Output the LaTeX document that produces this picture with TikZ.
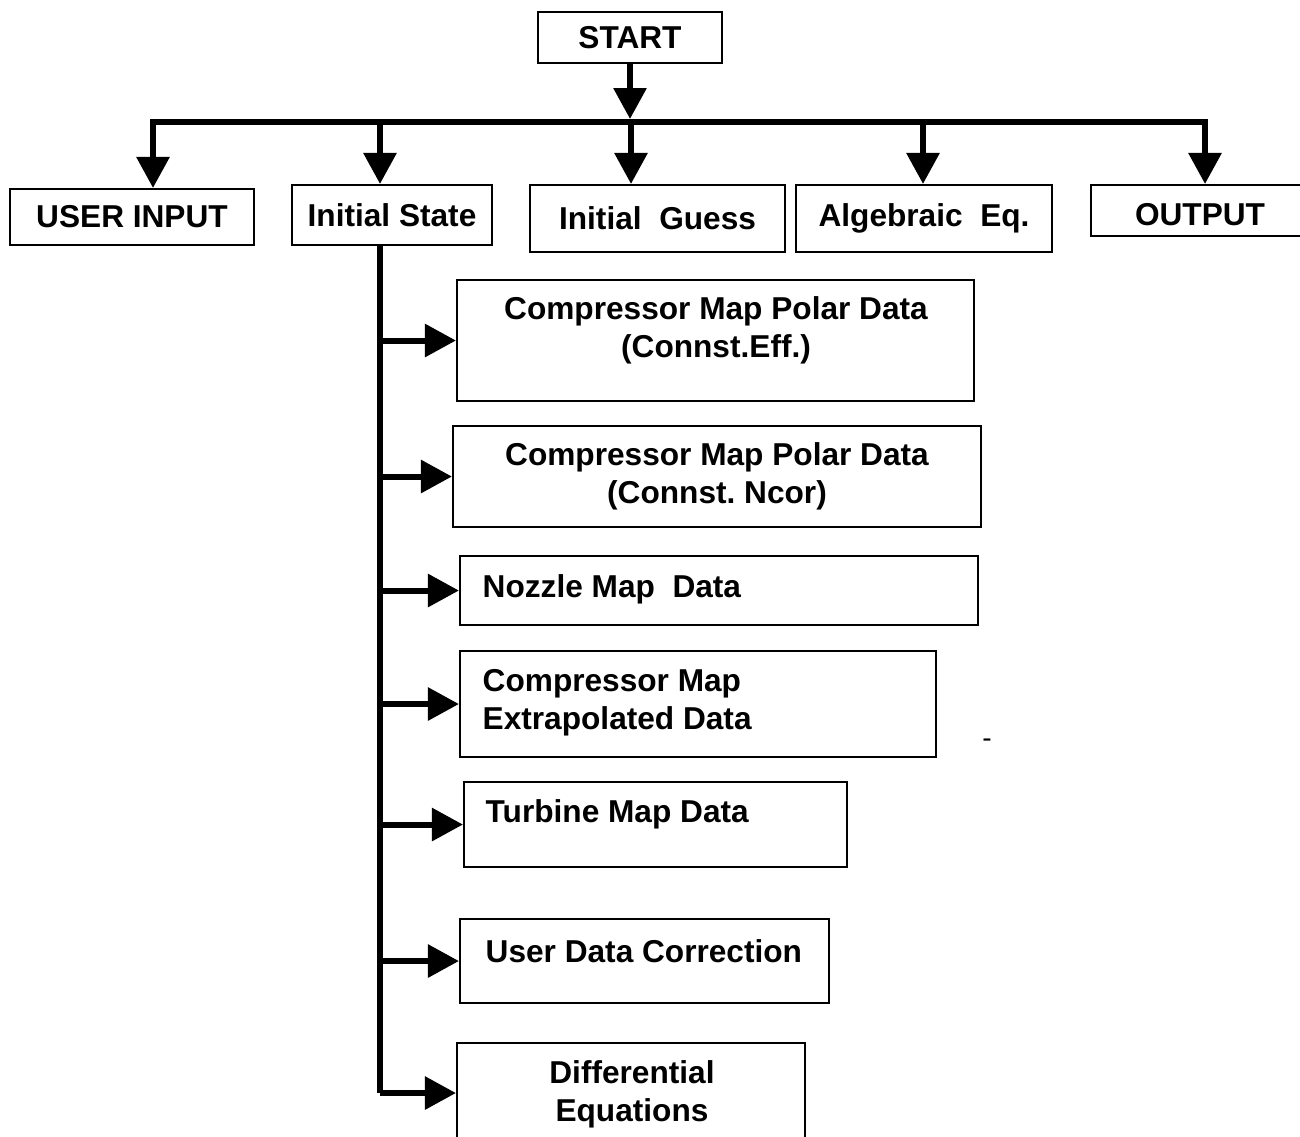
\documentclass[tikz,border=0pt]{standalone}
\usepackage{fontspec}
\setmainfont{Liberation Sans}
\usetikzlibrary{arrows.meta}

\begin{document}
\begin{tikzpicture}[
    bus/.style={line width=1.7pt},
    arr/.style={line width=1.7pt,-{Triangle[length=0.31cm,width=0.32cm]}},
    twoarr/.style={line width=1.7pt,{Triangle[length=0.31cm,width=0.32cm]}-{Triangle[length=0.31cm,width=0.32cm]}},
    box/.style={draw,line width=0.6pt,inner sep=0pt,font=\fontsize{9}{10.8}\selectfont\bfseries},
    txt/.style={inner sep=0pt,align=center,font=\fontsize{9}{10.8}\selectfont\bfseries}
  ]
  \useasboundingbox (0,0) rectangle (13,-11.36);

  % top row
  \node (start) at (6.30,-0.375) [box,minimum width=1.84cm,minimum height=0.51cm]{START};
  \node (ui) at (1.32,-2.17) [box,minimum width=2.44cm,minimum height=0.56cm]{USER INPUT};
  \node (is) at (3.92,-2.15) [box,minimum width=2.00cm,minimum height=0.60cm]{Initial State};
  \node (ig) at (6.575,-2.185) [box,minimum width=2.55cm,minimum height=0.67cm]{Initial\ \ Guess};
  \node (ae) at (9.24,-2.185) [box,minimum width=2.56cm,minimum height=0.67cm]{Algebraic\ \ Eq.};
  \node (out) at (12.00,-2.105) [box,minimum width=2.18cm,minimum height=0.51cm,text depth=0pt,text height=0.88em]{OUTPUT};

  % drop points on the bus
  \coordinate (d1) at (1.53,-1.22);
  \coordinate (d2) at (3.80,-1.22);
  \coordinate (d3) at (6.31,-1.22);
  \coordinate (d4) at (9.23,-1.22);
  \coordinate (d5) at (12.05,-1.22);

  \draw[arr] (start.south) -- ([yshift=0.03cm]start.south |- d1);
  \draw[twoarr] (ui.north -| d1) -- (d1) -- (d5) -- (out.north -| d5);
  \draw[arr] (d2) -- (is.north -| d2);
  \draw[arr] (d3) -- (ig.north -| d3);
  \draw[arr] (d4) -- (ae.north -| d4);

  % map data boxes
  \node (cm1) at (7.155,-3.405) [box,minimum width=5.17cm,minimum height=1.21cm]{};
  \node (cm2) at (7.17,-4.765) [box,minimum width=5.28cm,minimum height=1.01cm]{};
  \node (nz) at (7.19,-5.905) [box,minimum width=5.18cm,minimum height=0.69cm]{};
  \node (cm3) at (6.98,-7.04) [box,minimum width=4.76cm,minimum height=1.06cm]{};
  \node (tb) at (6.555,-8.245) [box,minimum width=3.83cm,minimum height=0.85cm]{};
  \node (ud) at (6.445,-9.61) [box,minimum width=3.69cm,minimum height=0.84cm]{};
  \node (de) at (6.31,-10.93) [box,minimum width=3.48cm,minimum height=1.00cm]{};

  \node (cm1t) at (7.16,-3.30) [txt]{Compressor Map Polar Data\\(Connst.Eff.)};
  \node (cm2t) at (7.17,-4.76) [txt]{Compressor Map Polar Data\\(Connst.\ Ncor)};
  \node (nzt) at (4.82,-5.89) [txt,anchor=west]{Nozzle Map\ \ Data};
  \node (cm3t) at (4.82,-7.03) [txt,anchor=west,align=left]{Compressor Map\\Extrapolated Data};
  \node (tbt) at (4.85,-8.14) [txt,anchor=west]{Turbine Map Data};
  \node (udt) at (4.85,-9.51) [txt,anchor=west]{User Data Correction};
  \node (det) at (6.32,-10.94) [txt]{Differential\\Equations};

  \node (dash) at (9.87,-7.43) [inner sep=0pt,font=\fontsize{8}{9.6}\selectfont]{-};

  % trunk under Initial State
  \coordinate (tr) at (3.80,-2.45);
  \draw[bus] (tr) -- (tr |- de.west);
  \foreach \b in {cm1,cm2,nz,cm3,tb,ud,de}
    \draw[arr] (tr |- \b.west) -- (\b.west);

\end{tikzpicture}
\end{document}
